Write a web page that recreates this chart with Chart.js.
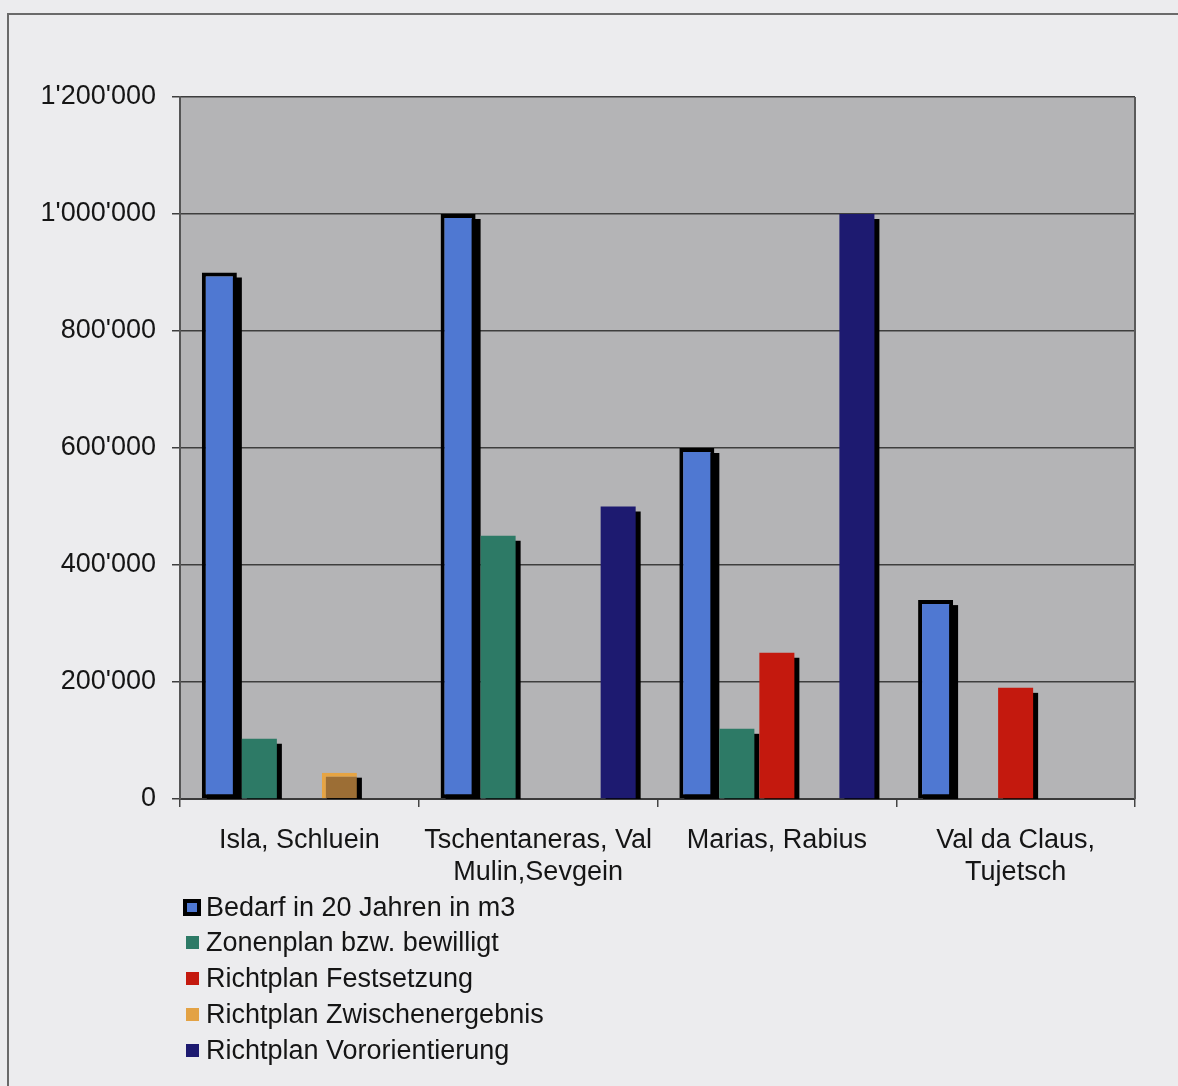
<!DOCTYPE html>
<html>
<head>
<meta charset="utf-8">
<script src="https://cdn.jsdelivr.net/npm/chart.js@4/dist/chart.umd.min.js"></script>
<style>
  html, body { margin: 0; padding: 0; background: #ececee; }
  #wrap { width: 1178px; height: 1086px; position: relative; }
</style>
</head>
<body>
<div id="wrap"><canvas id="c" width="1178" height="1086"></canvas></div>
<script>
const categories = [
  ["Isla, Schluein"],
  ["Tschentaneras, Val", "Mulin,Sevgein"],
  ["Marias, Rabius"],
  ["Val da Claus,", "Tujetsch"]
];
const seriesNames = [
  "Bedarf in 20 Jahren in m3",
  "Zonenplan bzw. bewilligt",
  "Richtplan Festsetzung",
  "Richtplan Zwischenergebnis",
  "Richtplan Vororientierung"
];
const bedarf          = [900000, 1000000, 600000, 340000];
const zonenplan       = [103000, 450000, 120000, null];
const festsetzung     = [null, null, 250000, 190000];
const zwischenergebnis = [45000, null, null, null];
const vororientierung = [null, 500000, 1000000, null];
const yTicks = [0, 200000, 400000, 600000, 800000, 1000000, 1200000];

const colors = ["#4f78d2", "#2d7a66", "#c4190e", "#e3a244", "#1d1a70"];

function fmt(v) {
  return String(v).replace(/\B(?=(\d{3})+(?!\d))/g, "'");
}

const FONT = "'Liberation Sans', Arial, sans-serif";
const FS = 27;

const bgPlugin = {
  id: 'bg',
  beforeDraw(chart) {
    const {ctx, chartArea: a} = chart;
    ctx.save();
    ctx.fillStyle = '#ececee';
    ctx.fillRect(0, 0, chart.width, chart.height);
    ctx.strokeStyle = '#6a6a6a';
    ctx.lineWidth = 2;
    ctx.beginPath();
    ctx.moveTo(8, chart.height + 2);
    ctx.lineTo(8, 14);
    ctx.lineTo(chart.width + 2, 14);
    ctx.stroke();
    ctx.fillStyle = '#b4b4b6';
    ctx.fillRect(a.left, a.top, a.right - a.left, a.bottom - a.top);
    ctx.restore();
  },
  beforeDatasetsDraw(chart) {
    const {ctx, chartArea: a} = chart;
    ctx.save();
    ctx.beginPath();
    ctx.rect(a.left, a.top, a.right - a.left, a.bottom - a.top);
    ctx.clip();
    ctx.fillStyle = '#000';
    chart.data.datasets.forEach((ds, i) => {
      const meta = chart.getDatasetMeta(i);
      meta.data.forEach((el, j) => {
        if (ds.data[j] == null) return;
        const p = el.getProps(['x', 'y', 'base', 'width'], true);
        const left = p.x - p.width / 2;
        ctx.fillRect(left + 5, p.y + 5, p.width, p.base - p.y);
      });
    });
    ctx.restore();
  },
  afterDraw(chart) {
    const {ctx, chartArea: a} = chart;
    ctx.save();
    ctx.strokeStyle = '#5a5a5a';
    ctx.lineWidth = 2;
    ctx.beginPath();
    ctx.moveTo(a.right, a.top);
    ctx.lineTo(a.right, a.bottom);
    ctx.stroke();
    const rows = [908, 943, 979, 1015, 1051];
    ctx.font = FS + "px " + FONT;
    ctx.textBaseline = 'middle';
    ctx.textAlign = 'left';
    seriesNames.forEach((n, i) => {
      const y = rows[i];
      if (i === 0) {
        ctx.fillStyle = '#000';
        ctx.fillRect(183, y - 9, 18, 17);
        ctx.fillStyle = colors[0];
        ctx.fillRect(187, y - 5, 10, 9);
      } else {
        ctx.fillStyle = colors[i];
        ctx.fillRect(186, y - 7, 13, 13);
      }
      ctx.fillStyle = '#151515';
      ctx.fillText(n, 206, y + 1);
    });
    ctx.restore();
  }
};

const datasetsData = [bedarf, zonenplan, festsetzung, zwischenergebnis, vororientierung];
const datasets = datasetsData.map((d, i) => {
  const ds = {
    label: seriesNames[i],
    data: d,
    backgroundColor: colors[i],
    borderWidth: 0,
    categoryPercentage: 0.838,
    barPercentage: 0.875
  };
  if (i === 0) {
    ds.borderColor = '#000';
    ds.borderWidth = 4;
    ds.borderSkipped = false;
  }
  if (i === 3) {
    ds.backgroundColor = '#9c6e35';
    ds.borderColor = '#e6a443';
    ds.borderWidth = {top: 4, left: 4, right: 0, bottom: 0};
    ds.borderSkipped = false;
  }
  return ds;
});

new Chart(document.getElementById('c'), {
  type: 'bar',
  data: { labels: categories, datasets },
  plugins: [bgPlugin],
  options: {
    responsive: false,
    animation: false,
    layout: { padding: { left: 0, right: 43, top: 97, bottom: 0 } },
    plugins: {
      legend: { display: false },
      tooltip: { enabled: false }
    },
    scales: {
      x: {
        afterFit(scale) { scale.height = 287; },
        grid: {
          offset: true,
          drawOnChartArea: false,
          drawTicks: true,
          tickLength: 8,
          color: '#444',
          lineWidth: 1.5
        },
        border: { display: true, color: '#3a3a3a', width: 2 },
        ticks: {
          color: '#151515',
          font: { family: FONT, size: FS, lineHeight: 1.2 },
          padding: 17,
          maxRotation: 0,
          autoSkip: false
        }
      },
      y: {
        min: 0,
        max: 1200000,
        afterFit(scale) { scale.width = 180; },
        afterBuildTicks(scale) { scale.ticks = yTicks.map(v => ({ value: v })); },
        grid: {
          color: '#3e3e3e',
          lineWidth: 1.5,
          tickLength: 8,
          drawTicks: true
        },
        border: { display: true, color: '#555', width: 2 },
        ticks: {
          color: '#151515',
          font: { family: FONT, size: FS },
          padding: 16,
          callback: (v) => fmt(v)
        }
      }
    }
  }
});
</script>
</body>
</html>
